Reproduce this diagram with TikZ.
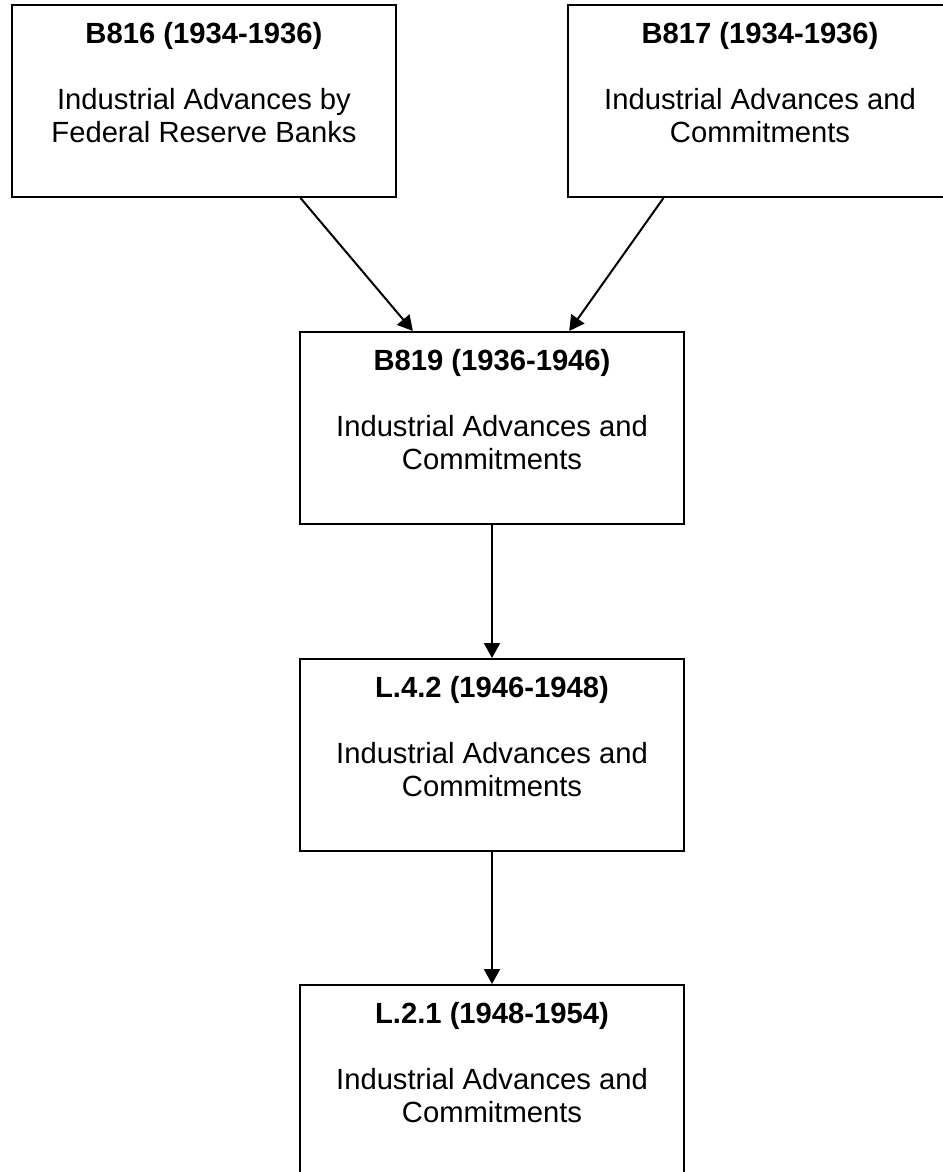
\documentclass[tikz,border=0pt]{standalone}
\usepackage{fontspec}
\setmainfont{Liberation Sans}
\usetikzlibrary{arrows.meta,calc}

\begin{document}
\begin{tikzpicture}[x=1pt, y=-1pt, >={Triangle[length=15pt,width=16pt]},
    box/.style={draw, line width=2pt, minimum width=384pt, minimum height=192pt, inner sep=0pt},
    boxtext/.style={anchor=north, align=center, inner sep=0pt, font=\fontsize{29.2}{33.6}\selectfont},
    link/.style={->, line width=2pt}]
    \useasboundingbox (0, 0) rectangle (942, 1172);
    % boxes
    \node[box] (b816) at (204, 101) {};
    \node[box] (b817) at (760, 101) {};
    \node[box] (b819) at (492, 428) {};
    \node[box] (l42) at (492, 755) {};
    \node[box] (l21) at (492, 1081) {};
    % texts
    \node[boxtext] (b816txt) at ($(b816.north) + (0, 18)$) {\textbf{B816 (1934-1936)}\\[32.4pt]Industrial Advances by\\Federal Reserve Banks};
    \node[boxtext] (b817txt) at ($(b817.north) + (0, 18)$) {\textbf{B817 (1934-1936)}\\[32.4pt]Industrial Advances and\\Commitments};
    \node[boxtext] (b819txt) at ($(b819.north) + (0, 18)$) {\textbf{B819 (1936-1946)}\\[32.4pt]Industrial Advances and\\Commitments};
    \node[boxtext] (l42txt) at ($(l42.north) + (0, 18)$) {\textbf{L.4.2 (1946-1948)}\\[32.4pt]Industrial Advances and\\Commitments};
    \node[boxtext] (l21txt) at ($(l21.north) + (0, 18)$) {\textbf{L.2.1 (1948-1954)}\\[32.4pt]Industrial Advances and\\Commitments};
    % arrows
    \draw[link] ($(b816.south west)!0.75!(b816.south east)$) -- ($(b819.north west)!0.295!(b819.north east)$);
    \draw[link] ($(b817.south west)!0.25!(b817.south east)$) -- ($(b819.north west)!0.7!(b819.north east)$);
    \draw[link] (b819.south) -- (l42.north);
    \draw[link] (l42.south) -- (l21.north);
\end{tikzpicture}
\end{document}
